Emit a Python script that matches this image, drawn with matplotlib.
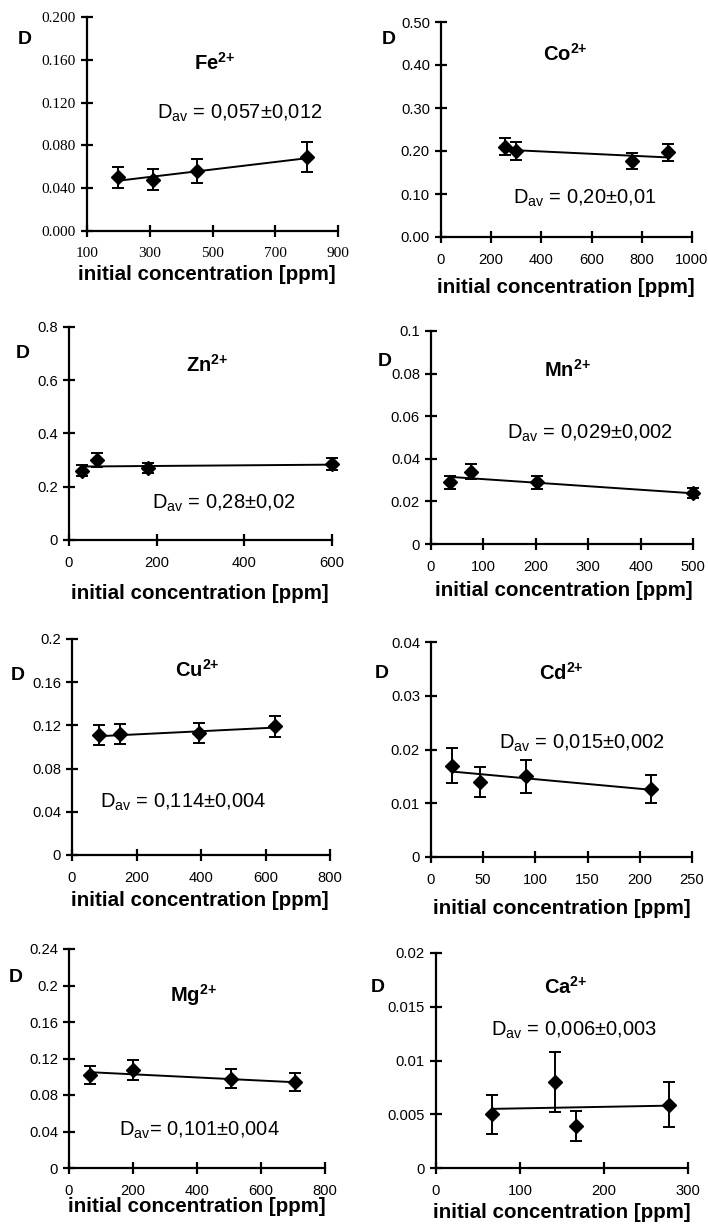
import matplotlib
matplotlib.use('Agg')
import matplotlib.pyplot as plt

W, H = 708, 1230

# ---- data ----
fe_x = [200, 310, 450, 800]
fe_y = [0.050, 0.048, 0.056, 0.069]
fe_err = [0.010, 0.010, 0.011, 0.014]
fe_fit = [0.047, 0.068]

co_x = [255, 300, 760, 905]
co_y = [0.210, 0.200, 0.177, 0.197]
co_err = [0.020, 0.020, 0.018, 0.020]
co_fit = [0.203, 0.185]

zn_x = [30, 65, 180, 600]
zn_y = [0.260, 0.300, 0.270, 0.285]
zn_err = [0.020, 0.025, 0.020, 0.022]
zn_fit = [0.276, 0.283]

mn_x = [37, 77, 202, 500]
mn_y = [0.029, 0.034, 0.029, 0.024]
mn_err = [0.003, 0.0035, 0.003, 0.0025]
mn_fit = [0.0315, 0.0238]

cu_x = [85, 150, 395, 630]
cu_y = [0.111, 0.112, 0.113, 0.119]
cu_err = [0.009, 0.009, 0.009, 0.010]
cu_fit = [0.110, 0.118]

cd_x = [20, 47, 91, 211]
cd_y = [0.0170, 0.0140, 0.0150, 0.0127]
cd_err = [0.0033, 0.0028, 0.0030, 0.0026]
cd_fit = [0.0159, 0.0125]

mg_x = [65, 200, 505, 705]
mg_y = [0.102, 0.107, 0.098, 0.094]
mg_err = [0.010, 0.011, 0.010, 0.010]
mg_fit = [0.105, 0.094]

ca_x = [67, 142, 167, 277]
ca_y = [0.0050, 0.0080, 0.0039, 0.0059]
ca_err = [0.0018, 0.0028, 0.0014, 0.0021]
ca_fit = [0.0055, 0.0058]

fe_xticks = [100, 300, 500, 700, 900]
fe_yticks = [0, 0.04, 0.08, 0.12, 0.16, 0.2]
fe_ylabels = ['0.000', '0.040', '0.080', '0.120', '0.160', '0.200']
co_xticks = [0, 200, 400, 600, 800, 1000]
co_yticks = [0, 0.1, 0.2, 0.3, 0.4, 0.5]
co_ylabels = ['0.00', '0.10', '0.20', '0.30', '0.40', '0.50']
zn_xticks = [0, 200, 400, 600]
zn_yticks = [0, 0.2, 0.4, 0.6, 0.8]
zn_ylabels = ['0', '0.2', '0.4', '0.6', '0.8']
mn_xticks = [0, 100, 200, 300, 400, 500]
mn_yticks = [0, 0.02, 0.04, 0.06, 0.08, 0.1]
mn_ylabels = ['0', '0.02', '0.04', '0.06', '0.08', '0.1']
cu_xticks = [0, 200, 400, 600, 800]
cu_yticks = [0, 0.04, 0.08, 0.12, 0.16, 0.2]
cu_ylabels = ['0', '0.04', '0.08', '0.12', '0.16', '0.2']
cd_xticks = [0, 50, 100, 150, 200, 250]
cd_yticks = [0, 0.01, 0.02, 0.03, 0.04]
cd_ylabels = ['0', '0.01', '0.02', '0.03', '0.04']
mg_xticks = [0, 200, 400, 600, 800]
mg_yticks = [0, 0.04, 0.08, 0.12, 0.16, 0.2, 0.24]
mg_ylabels = ['0', '0.04', '0.08', '0.12', '0.16', '0.2', '0.24']
ca_xticks = [0, 100, 200, 300]
ca_yticks = [0, 0.005, 0.01, 0.015, 0.02]
ca_ylabels = ['0', '0.005', '0.01', '0.015', '0.02']

SANS = 'Liberation Sans'
SERIF = 'Liberation Serif'

plt.rcParams['mathtext.fontset'] = 'custom'
plt.rcParams['mathtext.rm'] = SANS
plt.rcParams['mathtext.bf'] = 'Liberation Sans:bold'

fig = plt.figure(figsize=(W / 100, H / 100), dpi=100)


def fx(px):
    return px / W


def fy(py):
    return 1 - py / H


def panel(box, x, y, err, fit, xticks, yticks, ylabels, ion, dav,
          d_pos, ion_pos, dav_pos, xl_pos, tickfont=SANS, tick_fs=10.6):
    left, right, top, bottom = box
    ax = fig.add_axes([fx(left), fy(bottom), fx(right) - fx(left), (bottom - top) / H])
    ax.errorbar(x, y, yerr=err, fmt='D', color='black', ms=7, elinewidth=1.4,
                capsize=4.5, capthick=1.4, clip_on=False, zorder=3)
    ax.plot([x[0], x[-1]], fit, color='black', lw=1.4, clip_on=False)
    ax.set_xlim(xticks[0], xticks[-1])
    ax.set_ylim(yticks[0], yticks[-1])
    ax.set_xticks(xticks)
    ax.set_xticklabels([str(t) for t in xticks])
    ax.set_yticks(yticks)
    ax.set_yticklabels(ylabels)
    for s in ['top', 'right']:
        ax.spines[s].set_visible(False)
    for s in ['left', 'bottom']:
        ax.spines[s].set_linewidth(1.6)
    ax.tick_params(direction='inout', length=8, width=1.6, labelsize=tick_fs)
    ax.tick_params(axis='x', pad=7.5)
    ax.tick_params(axis='y', pad=4)
    for lab in ax.get_xticklabels() + ax.get_yticklabels():
        lab.set_family(tickfont)
    ax.patch.set_alpha(0)
    fig.text(fx(d_pos[0]), fy(d_pos[1]), 'D', fontsize=14, fontweight='bold',
             family=SANS, ha='center', va='center')
    fig.text(fx(ion_pos[0]), fy(ion_pos[1]), ion, fontsize=14.5, fontweight='bold',
             family=SANS, ha='center', va='center')
    fig.text(fx(dav_pos[0]), fy(dav_pos[1]), dav, fontsize=14.5,
             family=SANS, ha='center', va='center')
    fig.text(fx(xl_pos[0]), fy(xl_pos[1]), 'initial concentration [ppm]', fontsize=14.8,
             fontweight='bold', family=SANS, ha='center', va='center')
    return ax


sup = r'$^{\mathbf{2{+}}}$'

panel((87, 338, 17, 231), fe_x, fe_y, fe_err, fe_fit, fe_xticks, fe_yticks, fe_ylabels,
      'Fe' + sup, r'D$_{\rm av}$ = 0,057±0,012',
      (25, 40), (215, 63), (240, 113), (207, 274), tickfont=SERIF, tick_fs=11)
panel((441, 692, 22, 237), co_x, co_y, co_err, co_fit, co_xticks, co_yticks, co_ylabels,
      'Co' + sup, r'D$_{\rm av}$ = 0,20±0,01',
      (389, 40), (565, 54), (585, 198), (566, 287))
panel((69, 332, 327, 540), zn_x, zn_y, zn_err, zn_fit, zn_xticks, zn_yticks, zn_ylabels,
      'Zn' + sup, r'D$_{\rm av}$ = 0,28±0,02',
      (23, 353), (207, 365), (224, 503), (200, 593))
panel((431, 693, 331, 544), mn_x, mn_y, mn_err, mn_fit, mn_xticks, mn_yticks, mn_ylabels,
      'Mn' + sup, r'D$_{\rm av}$ = 0,029±0,002',
      (385, 362), (567, 370), (590, 433), (564, 590))
panel((72, 330, 639, 855), cu_x, cu_y, cu_err, cu_fit, cu_xticks, cu_yticks, cu_ylabels,
      'Cu' + sup, r'D$_{\rm av}$ = 0,114±0,004',
      (18, 675), (197, 670), (183, 802), (200, 900))
panel((431, 692, 642, 857), cd_x, cd_y, cd_err, cd_fit, cd_xticks, cd_yticks, cd_ylabels,
      'Cd' + sup, r'D$_{\rm av}$ = 0,015±0,002',
      (382, 674), (561, 673), (582, 743), (562, 909))
panel((69, 325, 949, 1168), mg_x, mg_y, mg_err, mg_fit, mg_xticks, mg_yticks, mg_ylabels,
      'Mg' + sup, r'D$_{\rm av}$= 0,101±0,004',
      (16, 977), (193, 995), (199, 1130), (197, 1207))
panel((436, 688, 953, 1168), ca_x, ca_y, ca_err, ca_fit, ca_xticks, ca_yticks, ca_ylabels,
      'Ca' + sup, r'D$_{\rm av}$ = 0,006±0,003',
      (378, 987), (566, 987), (574, 1030), (562, 1213))

fig.savefig('out.png', dpi=100)
